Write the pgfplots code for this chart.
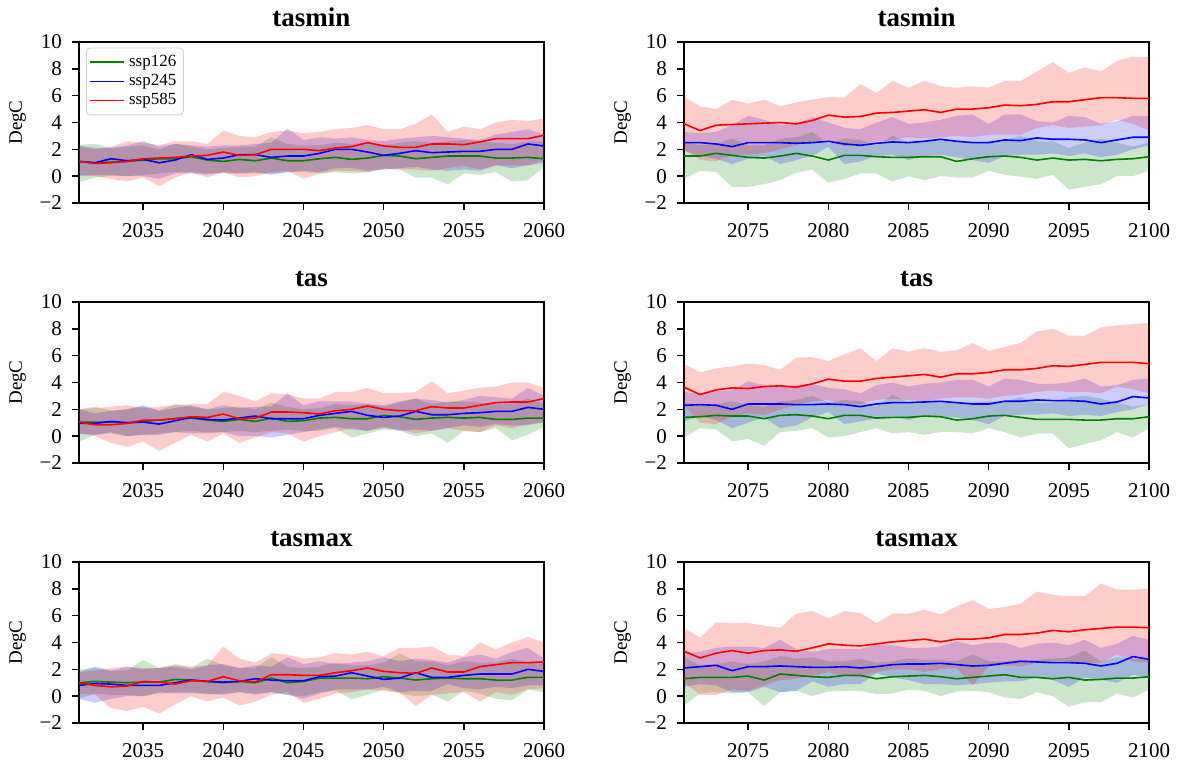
\documentclass[border=0pt]{standalone}
\usepackage{pgfplots}
\pgfplotsset{compat=1.18}
\usepackage{pgfplotstable}
\usepgfplotslibrary{fillbetween}
\usepackage{fontspec}
\setmainfont{Liberation Serif}
\definecolor{sgreen}{RGB}{0,128,0}
\definecolor{sblue}{RGB}{0,0,255}
\definecolor{sred}{RGB}{255,0,0}

\pgfplotstableread{
year gm gl gu bm bl bu rm rl ru
2031 1.10 -0.45 2.35 1.10 0.00 2.30 1.10 0.10 2.20
2032 1.00 -0.10 2.40 1.00 0.10 2.10 0.95 0.00 2.00
2033 1.05 0.00 2.10 1.30 0.10 2.10 1.00 -0.20 2.20
2034 1.10 0.00 2.20 1.15 0.00 2.30 1.10 -0.40 2.60
2035 1.20 0.10 2.30 1.25 0.00 2.60 1.30 -0.10 2.50
2036 1.30 0.20 2.00 1.00 -0.20 2.20 1.35 -0.75 2.30
2037 1.30 0.30 2.40 1.20 0.20 2.40 1.40 -0.10 2.60
2038 1.45 0.30 2.20 1.60 0.20 2.30 1.50 0.30 2.60
2039 1.20 0.20 2.00 1.25 0.10 2.20 1.55 -0.10 2.40
2040 1.10 0.20 2.10 1.35 0.30 2.30 1.80 0.30 3.40
2041 1.25 0.20 2.20 1.60 0.20 2.30 1.55 -0.10 3.00
2042 1.15 0.20 2.20 1.60 0.30 2.40 1.60 0.00 2.90
2043 1.35 0.20 2.90 1.40 0.10 2.50 2.00 0.30 3.30
2044 1.15 0.30 2.40 1.50 0.30 3.55 2.00 0.40 3.40
2045 1.15 0.30 2.30 1.50 0.40 2.70 2.00 -0.20 3.20
2046 1.30 0.20 2.30 1.70 0.30 2.90 1.90 0.20 3.30
2047 1.40 0.30 2.50 2.00 0.60 2.80 2.10 0.40 3.50
2048 1.25 0.20 2.40 2.00 0.60 2.90 2.20 0.40 3.60
2049 1.35 0.30 2.50 1.80 0.40 2.70 2.50 0.30 3.80
2050 1.55 0.50 2.30 1.55 0.50 2.60 2.25 0.60 3.50
2051 1.50 0.50 2.50 1.70 0.60 2.80 2.15 0.50 3.50
2052 1.30 -0.10 2.60 1.90 0.70 2.90 2.15 0.50 3.90
2053 1.40 -0.10 2.50 1.75 0.50 3.00 2.40 0.40 4.60
2054 1.50 -0.60 2.60 1.80 0.40 2.90 2.40 0.60 3.30
2055 1.50 0.20 2.70 1.85 0.50 2.80 2.35 0.80 3.70
2056 1.50 0.10 2.60 1.85 0.40 2.70 2.55 0.50 3.50
2057 1.35 0.30 2.50 2.00 0.80 3.10 2.80 0.80 4.00
2058 1.35 -0.40 2.40 2.00 0.60 3.30 2.80 0.80 4.20
2059 1.40 -0.30 2.60 2.40 0.80 3.50 2.80 0.80 4.10
2060 1.30 0.70 2.60 2.25 1.00 3.10 3.05 1.20 4.30
}\tA

\pgfplotstableread{
year gm gl gu bm bl bu rm rl ru
2071 1.50 -0.20 2.60 2.50 1.90 3.30 3.90 2.00 5.90
2072 1.50 0.40 2.30 2.50 1.50 3.20 3.40 1.20 5.20
2073 1.70 0.30 2.40 2.40 1.30 3.30 3.80 1.10 5.00
2074 1.55 -0.80 2.80 2.20 0.90 3.80 3.85 1.60 5.70
2075 1.40 -0.80 2.30 2.50 1.30 4.50 3.90 1.60 5.40
2076 1.35 -0.60 2.30 2.50 1.50 4.20 3.95 1.70 5.70
2077 1.50 -0.30 2.80 2.50 0.90 3.80 4.00 2.00 5.20
2078 1.70 0.25 2.90 2.45 1.20 3.90 3.90 2.30 5.50
2079 1.50 0.50 3.30 2.50 1.50 4.40 4.15 2.60 5.70
2080 1.20 -0.50 2.40 2.60 2.20 4.00 4.55 2.70 5.90
2081 1.55 -0.20 2.80 2.40 0.90 3.60 4.40 2.20 5.85
2082 1.55 0.20 2.70 2.30 1.10 3.50 4.45 2.40 6.85
2083 1.45 0.20 2.30 2.45 1.50 4.00 4.70 2.60 6.20
2084 1.40 -0.40 3.00 2.55 1.60 4.40 4.75 2.70 7.10
2085 1.40 0.00 2.50 2.50 1.20 3.90 4.85 2.90 6.60
2086 1.45 -0.30 2.60 2.60 1.50 4.00 4.95 2.80 7.10
2087 1.45 0.00 2.70 2.75 1.60 4.20 4.75 2.90 6.70
2088 1.10 -0.10 2.60 2.60 1.40 4.50 5.00 3.00 6.60
2089 1.30 -0.10 2.50 2.50 1.20 4.60 5.00 2.90 6.70
2090 1.45 0.40 2.60 2.50 1.00 3.90 5.10 3.10 6.60
2091 1.50 0.10 2.70 2.70 1.50 4.60 5.30 3.10 7.10
2092 1.40 -0.05 3.00 2.65 1.60 4.60 5.25 3.10 7.10
2093 1.20 -0.20 2.60 2.85 1.60 4.10 5.35 3.60 7.80
2094 1.35 0.10 2.60 2.75 1.70 4.00 5.55 3.80 8.50
2095 1.20 -1.00 2.10 2.75 1.50 4.50 5.55 3.60 7.70
2096 1.25 -0.80 2.50 2.70 1.70 4.40 5.70 3.70 8.10
2097 1.15 -0.60 2.80 2.50 1.40 3.90 5.85 3.80 7.80
2098 1.25 0.00 2.50 2.70 1.60 4.10 5.85 4.20 8.60
2099 1.30 0.00 2.20 2.90 2.00 4.50 5.80 3.90 8.90
2100 1.45 0.40 2.50 2.90 2.30 4.50 5.80 3.40 8.90
}\tB

\pgfplotstableread{
year gm gl gu bm bl bu rm rl ru
2031 1.05 -0.40 2.00 0.95 0.20 2.00 1.05 0.20 2.00
2032 1.05 0.10 2.20 0.95 0.10 1.70 0.85 0.00 2.10
2033 1.05 0.20 1.90 1.10 0.30 1.90 0.85 -0.50 2.20
2034 1.00 0.00 2.00 1.00 0.00 2.00 0.95 -0.80 2.30
2035 1.10 0.10 2.20 1.05 0.10 2.30 1.20 -0.40 2.10
2036 1.20 0.20 1.90 0.90 0.10 1.90 1.20 -1.10 2.20
2037 1.30 0.30 2.40 1.15 0.30 2.10 1.30 -0.50 2.30
2038 1.35 0.40 2.20 1.40 0.20 2.30 1.45 0.10 2.40
2039 1.20 0.30 2.00 1.25 0.20 2.00 1.40 -0.40 2.40
2040 1.10 0.30 2.10 1.20 0.30 2.30 1.65 0.20 3.30
2041 1.25 0.40 2.20 1.35 0.00 2.10 1.30 -0.50 3.00
2042 1.10 0.30 2.00 1.50 0.00 2.20 1.35 -0.10 2.60
2043 1.35 0.40 2.50 1.30 -0.10 2.20 1.80 0.30 3.20
2044 1.10 0.50 2.20 1.30 0.10 3.20 1.80 0.20 3.10
2045 1.15 0.40 2.00 1.30 0.30 2.30 1.75 -0.40 2.80
2046 1.35 0.40 2.10 1.55 0.50 2.60 1.65 0.00 2.80
2047 1.40 0.60 2.40 1.70 0.70 2.60 1.90 0.30 3.30
2048 1.30 -0.10 2.30 1.85 0.50 2.60 2.00 0.60 3.30
2049 1.30 0.20 2.40 1.55 0.40 2.40 2.25 0.40 3.60
2050 1.55 0.50 2.20 1.40 0.70 2.30 2.00 0.60 3.20
2051 1.45 0.40 2.50 1.50 0.40 2.60 1.90 0.50 3.20
2052 1.25 0.00 2.80 1.85 0.50 2.80 1.90 0.20 3.30
2053 1.35 0.20 2.40 1.60 0.40 2.70 2.20 0.40 4.10
2054 1.40 -0.50 2.60 1.60 0.60 2.50 2.10 0.60 3.20
2055 1.35 0.40 2.60 1.70 0.80 2.70 2.10 0.40 3.40
2056 1.40 0.30 2.50 1.75 0.70 3.00 2.30 0.30 3.60
2057 1.25 0.60 2.40 1.85 0.90 2.90 2.50 0.80 3.70
2058 1.25 -0.30 2.40 1.85 0.80 2.80 2.55 0.60 4.00
2059 1.35 0.10 2.80 2.15 0.80 3.60 2.55 0.90 4.00
2060 1.35 0.70 2.40 2.00 1.10 3.00 2.80 1.00 3.60
}\tC

\pgfplotstableread{
year gm gl gu bm bl bu rm rl ru
2071 1.40 -0.10 2.50 2.30 1.10 3.30 3.65 2.30 5.40
2072 1.45 0.60 2.30 2.35 1.50 3.20 3.10 1.00 4.75
2073 1.55 0.50 2.40 2.30 1.20 3.40 3.45 0.90 5.05
2074 1.50 -0.40 2.60 2.00 0.60 3.40 3.60 1.50 5.20
2075 1.50 -0.20 2.30 2.40 1.00 4.10 3.55 1.70 5.40
2076 1.30 -0.70 2.20 2.40 1.40 3.80 3.70 1.60 5.30
2077 1.55 0.30 2.60 2.40 0.60 3.70 3.75 2.00 4.95
2078 1.60 0.40 2.70 2.35 0.80 3.80 3.65 2.30 5.85
2079 1.50 0.60 3.00 2.35 1.40 3.90 3.90 2.60 5.90
2080 1.30 -0.10 2.50 2.40 1.80 3.60 4.25 2.70 5.60
2081 1.55 0.00 2.70 2.35 0.90 3.50 4.10 2.30 6.10
2082 1.55 0.30 2.60 2.20 1.10 3.20 4.10 2.40 6.55
2083 1.35 0.60 2.20 2.40 1.30 3.80 4.30 2.70 5.60
2084 1.40 0.20 3.10 2.50 1.50 4.00 4.40 2.80 6.55
2085 1.40 0.30 2.50 2.50 1.20 3.70 4.50 2.70 6.30
2086 1.50 0.10 2.60 2.55 1.50 3.90 4.60 2.60 6.55
2087 1.45 0.30 2.60 2.60 1.40 4.00 4.40 2.80 6.30
2088 1.20 0.30 2.50 2.50 1.40 4.20 4.65 2.90 6.40
2089 1.30 0.20 2.50 2.40 1.20 4.20 4.65 2.90 6.95
2090 1.50 0.60 2.60 2.40 0.90 3.70 4.75 2.80 6.35
2091 1.55 0.30 2.60 2.60 1.50 4.30 4.95 3.00 6.65
2092 1.40 -0.10 2.90 2.60 1.60 4.20 4.95 3.10 6.95
2093 1.25 0.20 2.50 2.70 1.60 3.90 5.05 3.30 7.80
2094 1.25 0.20 2.50 2.65 1.70 3.90 5.25 3.40 8.00
2095 1.25 -0.90 2.90 2.65 1.50 4.00 5.20 3.30 7.50
2096 1.20 -0.60 3.00 2.60 1.60 4.30 5.35 3.30 7.50
2097 1.20 -0.30 2.80 2.40 1.50 3.70 5.50 3.20 8.10
2098 1.30 0.30 2.50 2.55 1.80 3.80 5.50 3.70 8.25
2099 1.30 -0.10 2.20 2.95 2.00 4.20 5.50 3.50 8.35
2100 1.45 0.60 2.40 2.85 2.40 4.30 5.40 3.20 8.45
}\tD

\pgfplotstableread{
year gm gl gu bm bl bu rm rl ru
2031 1.00 -0.20 2.00 0.80 -0.20 1.80 1.00 0.20 1.80
2032 1.10 0.20 2.10 0.95 -0.50 2.20 0.80 0.10 1.90
2033 1.05 0.10 1.90 0.90 -0.20 1.90 0.70 -0.90 2.10
2034 1.00 0.10 1.90 0.80 0.00 2.20 0.75 -1.10 2.20
2035 1.05 0.00 2.70 0.80 0.00 2.00 1.10 -0.80 2.10
2036 1.05 0.20 2.10 0.80 0.30 2.10 1.05 -1.30 2.10
2037 1.25 0.30 2.40 1.00 0.20 2.20 0.90 -0.60 2.30
2038 1.20 0.30 2.10 1.20 0.20 2.00 1.15 0.00 2.20
2039 1.10 0.10 2.80 1.10 0.20 2.30 1.10 -0.40 2.30
2040 1.00 0.20 2.30 1.05 0.10 2.40 1.45 -0.10 3.70
2041 1.10 0.30 2.10 1.10 0.30 2.10 1.15 -0.70 2.80
2042 1.00 0.20 2.10 1.30 0.10 2.30 1.05 -0.40 2.50
2043 1.35 0.30 2.90 1.20 0.30 2.20 1.60 0.10 3.20
2044 1.00 0.10 2.20 1.15 0.10 2.90 1.60 0.30 3.10
2045 1.10 0.00 2.10 1.15 -0.20 2.40 1.55 -0.50 2.80
2046 1.35 0.30 2.20 1.45 0.20 2.60 1.55 -0.20 2.90
2047 1.35 0.40 2.50 1.50 0.50 2.40 1.75 0.20 3.20
2048 1.35 -0.20 2.30 1.75 0.50 2.50 1.90 0.30 3.10
2049 1.30 0.10 2.30 1.50 0.50 2.60 2.10 0.50 3.30
2050 1.45 0.50 2.50 1.25 0.70 2.90 1.85 0.40 3.00
2051 1.35 0.20 3.20 1.35 0.30 2.60 1.75 0.30 3.60
2052 1.20 0.00 2.60 1.75 0.40 2.80 1.70 -0.75 3.60
2053 1.30 0.10 2.60 1.40 0.40 2.70 2.10 0.10 3.70
2054 1.35 -0.40 2.30 1.40 0.90 2.50 1.80 0.20 3.10
2055 1.30 0.40 2.60 1.55 0.60 2.90 1.80 0.30 3.00
2056 1.30 0.20 2.50 1.65 0.50 3.10 2.20 -0.40 4.00
2057 1.20 -0.20 2.50 1.65 0.70 2.80 2.35 0.30 3.50
2058 1.20 -0.30 2.80 1.65 0.60 3.30 2.50 0.10 4.00
2059 1.40 0.50 2.50 2.00 0.80 3.60 2.50 0.50 4.40
2060 1.40 0.30 2.60 1.85 0.80 2.80 2.55 0.60 4.00
}\tE

\pgfplotstableread{
year gm gl gu bm bl bu rm rl ru
2071 1.30 -0.70 2.90 2.10 0.70 3.20 3.35 1.00 5.10
2072 1.40 0.20 2.30 2.20 0.90 3.30 2.85 0.10 4.35
2073 1.40 0.30 2.40 2.30 0.80 3.60 3.20 0.10 5.50
2074 1.40 0.20 2.60 1.90 0.30 3.70 3.40 0.50 5.45
2075 1.50 0.30 2.40 2.20 0.30 3.70 3.20 0.40 5.45
2076 1.20 -0.75 2.60 2.20 0.70 3.60 3.40 0.80 5.25
2077 1.65 0.30 3.00 2.25 0.30 4.20 3.45 1.20 5.10
2078 1.55 0.40 2.80 2.20 0.40 3.50 3.35 1.30 6.15
2079 1.45 0.00 2.90 2.15 1.10 3.30 3.60 1.50 6.35
2080 1.40 0.35 2.60 2.15 0.70 3.50 3.90 1.80 5.80
2081 1.55 0.40 2.60 2.20 0.90 3.50 3.80 1.50 6.35
2082 1.55 0.40 2.80 2.10 0.90 3.50 3.75 1.40 6.20
2083 1.30 0.15 2.50 2.20 1.70 3.90 3.90 1.80 5.45
2084 1.45 0.20 2.60 2.35 1.40 3.80 4.05 2.00 6.15
2085 1.50 0.50 2.80 2.40 1.20 3.60 4.15 2.00 6.15
2086 1.55 0.40 2.70 2.40 0.90 3.60 4.25 1.80 6.45
2087 1.45 0.00 2.70 2.45 0.90 3.70 4.05 2.00 6.10
2088 1.30 0.35 2.60 2.35 0.80 4.10 4.25 2.10 6.70
2089 1.40 0.40 3.10 2.25 0.90 3.80 4.25 0.80 7.15
2090 1.50 0.30 2.60 2.30 1.00 4.00 4.35 2.20 6.50
2091 1.60 -0.10 2.60 2.45 1.10 4.00 4.60 2.30 6.65
2092 1.40 -0.20 2.70 2.60 1.10 3.60 4.60 2.20 6.90
2093 1.40 0.30 2.70 2.55 1.40 3.90 4.70 2.50 7.80
2094 1.30 0.00 2.80 2.50 1.20 4.00 4.90 2.60 7.55
2095 1.40 -0.80 2.90 2.50 0.70 3.80 4.80 2.60 7.45
2096 1.20 -0.45 3.40 2.45 1.40 4.20 4.95 2.40 7.45
2097 1.25 -0.45 2.60 2.25 1.20 3.60 5.05 2.50 8.40
2098 1.35 0.20 2.90 2.45 1.00 3.90 5.15 3.10 7.95
2099 1.35 -0.10 2.80 2.95 1.60 4.50 5.15 2.60 7.95
2100 1.45 0.50 2.70 2.75 1.40 4.20 5.10 2.50 8.00
}\tF

\pgfplotsset{
  panel/.style={
    anchor=south west, scale only axis,
    width=232.5pt, height=80.5pt,
    ymin=-2, ymax=10,
    ytick={-2,0,2,4,6,8,10},
    yticklabels={−2,0,2,4,6,8,10},
    tick align=outside, tick pos=left,
    major tick length=3.5pt,
    axis line style={line width=0.7pt},
    every tick/.style={black, line width=0.7pt},
    /pgf/number format/assume math mode=true,
    /pgf/number format/1000 sep={},
    tick label style={font=\fontsize{10.5}{12}\selectfont},
    xticklabel style={yshift=-3pt},
    yticklabel style={xshift=-1.5pt},
    title style={font=\bfseries\fontsize{13.5}{15}\selectfont, at={(0.5,1)}, anchor=south, yshift=-2pt},
    ylabel={DegC},
    ylabel style={font=\fontsize{9.5}{11}\selectfont},
  },
  near/.style={xmin=2031, xmax=2060, xtick={2035,2040,2045,2050,2055,2060}},
  far/.style={xmin=2071, xmax=2100, xtick={2075,2080,2085,2090,2095,2100}},
  gline/.style={color=sgreen, line width=0.8pt},
  bline/.style={color=sblue, line width=0.8pt},
  rline/.style={color=sred, line width=0.8pt},
}

\newcommand{\drawbands}[1]{%
  \addplot[draw=none, name path=gu, forget plot] table[x=year,y=gu]{#1};
  \addplot[draw=none, name path=gl, forget plot] table[x=year,y=gl]{#1};
  \addplot[draw=none, name path=bu, forget plot] table[x=year,y=bu]{#1};
  \addplot[draw=none, name path=bl, forget plot] table[x=year,y=bl]{#1};
  \addplot[draw=none, name path=ru, forget plot] table[x=year,y=ru]{#1};
  \addplot[draw=none, name path=rl, forget plot] table[x=year,y=rl]{#1};
  \addplot[fill=sgreen, fill opacity=0.2, draw=none, forget plot] fill between[of=gu and gl];
  \addplot[fill=sblue, fill opacity=0.2, draw=none, forget plot] fill between[of=bu and bl];
  \addplot[fill=sred, fill opacity=0.2, draw=none, forget plot] fill between[of=ru and rl];
}
\newcommand{\drawseries}[1]{%
  \drawbands{#1}
  \addplot[gline] table[x=year,y=gm]{#1};
  \addplot[bline] table[x=year,y=bm]{#1};
  \addplot[rline] table[x=year,y=rm]{#1};
}

\begin{document}
\begin{tikzpicture}

\begin{axis}[panel, near, at={(39.5pt,279.5pt)}, title={tasmin},
  legend cell align=left,
  legend style={at={(0.015,0.965)}, anchor=north west,
    font=\fontsize{8.5}{9.5}\selectfont, draw=black!18, rounded corners=2pt,
    fill=white, fill opacity=0.8, text opacity=1, draw opacity=1, row sep=-1.5pt,
    inner sep=1.5pt}]
\drawbands{\tA}
\addplot[gline] table[x=year,y=gm]{\tA};
\addlegendentry{ssp126}
\addplot[bline] table[x=year,y=bm]{\tA};
\addlegendentry{ssp245}
\addplot[rline] table[x=year,y=rm]{\tA};
\addlegendentry{ssp585}
\end{axis}

\begin{axis}[panel, far, at={(342pt,279.5pt)}, title={tasmin}]
\drawseries{\tB}
\end{axis}

\begin{axis}[panel, near, at={(39.5pt,149.5pt)}, title={tas}]
\drawseries{\tC}
\end{axis}

\begin{axis}[panel, far, at={(342pt,149.5pt)}, title={tas}]
\drawseries{\tD}
\end{axis}

\begin{axis}[panel, near, at={(39.5pt,19.5pt)}, title={tasmax}]
\drawseries{\tE}
\end{axis}

\begin{axis}[panel, far, at={(342pt,19.5pt)}, title={tasmax}]
\drawseries{\tF}
\end{axis}

\pgfresetboundingbox
\path (0,0) rectangle (590.5pt,381pt);
\end{tikzpicture}
\end{document}
